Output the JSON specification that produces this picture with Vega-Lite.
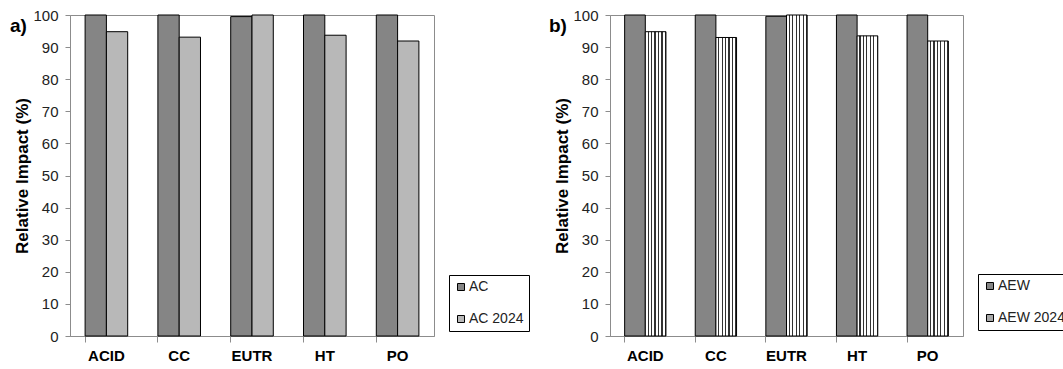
{
  "$schema": "https://vega.github.io/schema/vega-lite/v6.json",
  "background": "white",
  "padding": {"left": 9, "top": 7, "right": 0, "bottom": 0},
  "bounds": "flush",
  "spacing": 176,
  "resolve": {"scale": {"fill": "independent", "xOffset": "independent", "x": "independent", "y": "independent"}, "legend": {"fill": "independent"}},
  "config": {
    "view": {"stroke": "#8c8c8c", "strokeWidth": 1},
    "font": "Liberation Sans",
    "axis": {"domainColor": "#8c8c8c", "tickColor": "#8c8c8c", "labelColor": "#222222", "titleColor": "#222222", "grid": false},
    "legend": {
      "orient": "none",
      "strokeColor": "black",
      "fillColor": "white",
      "padding": 5,
      "rowPadding": 18,
      "labelFontSize": 14,
      "labelFont": "Liberation Sans",
      "labelColor": "#222222",
      "symbolType": "square",
      "symbolSize": 49,
      "symbolStrokeColor": "black",
      "symbolStrokeWidth": 1,
      "labelOffset": 1
    }
  },
  "hconcat": [
    {
      "width": 364,
      "height": 321,
      "title": {"text": "a)", "anchor": "start", "orient": "top", "frame": "group", "fontSize": 19, "fontWeight": "bold", "font": "Liberation Sans", "color": "black", "dx": -60, "dy": 32},
      "data": {"values": [
        {"cat": "ACID", "series": "AC", "value": 100},
        {"cat": "ACID", "series": "AC 2024", "value": 94.8},
        {"cat": "CC", "series": "AC", "value": 100},
        {"cat": "CC", "series": "AC 2024", "value": 93.1},
        {"cat": "EUTR", "series": "AC", "value": 99.5},
        {"cat": "EUTR", "series": "AC 2024", "value": 100},
        {"cat": "HT", "series": "AC", "value": 100},
        {"cat": "HT", "series": "AC 2024", "value": 93.7},
        {"cat": "PO", "series": "AC", "value": 100},
        {"cat": "PO", "series": "AC 2024", "value": 91.9}
      ]},
      "mark": {"type": "bar", "stroke": "black", "strokeWidth": 1},
      "encoding": {
        "x": {"field": "cat", "type": "nominal", "sort": ["ACID", "CC", "EUTR", "HT", "PO"],
          "scale": {"paddingInner": 0.415, "paddingOuter": 0.2075},
          "axis": {"title": null, "labelAngle": 0, "labelFont": "Liberation Sans", "labelFontSize": 15, "labelFontWeight": "bold", "labelColor": "black", "bandPosition": 0, "tickSize": 6, "labelPadding": 6}},
        "xOffset": {"field": "series", "type": "nominal", "sort": ["AC", "AC 2024"], "scale": {"paddingInner": 0, "paddingOuter": 0}},
        "y": {"field": "value", "type": "quantitative", "scale": {"domain": [0, 100]},
          "axis": {"title": "Relative Impact (%)", "values": [0, 10, 20, 30, 40, 50, 60, 70, 80, 90, 100], "tickSize": 5, "labelPadding": 7, "labelFont": "Liberation Sans", "labelFontSize": 15, "titleFontSize": 17, "titleFontWeight": "bold", "titleColor": "black", "titlePadding": 1}},
        "fill": {"field": "series", "type": "nominal", "sort": ["AC", "AC 2024"],
          "scale": {"domain": ["AC", "AC 2024"], "range": ["#858585", "#b8b8b8"]},
          "legend": {"title": null, "legendX": 379, "legendY": 260}}
      }
    },
    {
      "width": 353,
      "height": 321,
      "title": {"text": "b)", "anchor": "start", "orient": "top", "frame": "group", "fontSize": 19, "fontWeight": "bold", "font": "Liberation Sans", "color": "black", "dx": -61, "dy": 32},
      "data": {"values": [
        {"cat": "ACID", "series": "AEW", "value": 100},
        {"cat": "ACID", "series": "AEW 2024", "value": 94.8},
        {"cat": "CC", "series": "AEW", "value": 100},
        {"cat": "CC", "series": "AEW 2024", "value": 93.0},
        {"cat": "EUTR", "series": "AEW", "value": 99.6},
        {"cat": "EUTR", "series": "AEW 2024", "value": 100},
        {"cat": "HT", "series": "AEW", "value": 100},
        {"cat": "HT", "series": "AEW 2024", "value": 93.5},
        {"cat": "PO", "series": "AEW", "value": 100},
        {"cat": "PO", "series": "AEW 2024", "value": 91.9}
      ]},
      "mark": {"type": "bar", "stroke": "black", "strokeWidth": 1},
      "encoding": {
        "x": {"field": "cat", "type": "nominal", "sort": ["ACID", "CC", "EUTR", "HT", "PO"],
          "scale": {"paddingInner": 0.415, "paddingOuter": 0.2075},
          "axis": {"title": null, "labelAngle": 0, "labelFont": "Liberation Sans", "labelFontSize": 15, "labelFontWeight": "bold", "labelColor": "black", "bandPosition": 0, "tickSize": 6, "labelPadding": 6}},
        "xOffset": {"field": "series", "type": "nominal", "sort": ["AEW", "AEW 2024"], "scale": {"paddingInner": 0, "paddingOuter": 0}},
        "y": {"field": "value", "type": "quantitative", "scale": {"domain": [0, 100]},
          "axis": {"title": "Relative Impact (%)", "values": [0, 10, 20, 30, 40, 50, 60, 70, 80, 90, 100], "tickSize": 5, "labelPadding": 7, "labelFont": "Liberation Sans", "labelFontSize": 15, "titleFontSize": 17, "titleFontWeight": "bold", "titleColor": "black", "titlePadding": 1}},
        "fill": {"field": "series", "type": "nominal", "sort": ["AEW", "AEW 2024"],
          "scale": {"domain": ["AEW", "AEW 2024"], "range": ["#858585", "#a8a8a8"]},
          "legend": {"title": null, "legendX": 368, "legendY": 259},
          "condition": {"test": "datum.series === 'AEW 2024'", "value": {"gradient": "linear", "x1": 0, "y1": 0, "x2": 1, "y2": 0, "stops": [
            {"offset": 0, "color": "white"}, {"offset": 0.11, "color": "white"}, {"offset": 0.11, "color": "#333333"}, {"offset": 0.167, "color": "#333333"},
            {"offset": 0.167, "color": "white"}, {"offset": 0.277, "color": "white"}, {"offset": 0.277, "color": "#333333"}, {"offset": 0.333, "color": "#333333"},
            {"offset": 0.333, "color": "white"}, {"offset": 0.443, "color": "white"}, {"offset": 0.443, "color": "#333333"}, {"offset": 0.5, "color": "#333333"},
            {"offset": 0.5, "color": "white"}, {"offset": 0.61, "color": "white"}, {"offset": 0.61, "color": "#333333"}, {"offset": 0.667, "color": "#333333"},
            {"offset": 0.667, "color": "white"}, {"offset": 0.777, "color": "white"}, {"offset": 0.777, "color": "#333333"}, {"offset": 0.833, "color": "#333333"},
            {"offset": 0.833, "color": "white"}, {"offset": 0.943, "color": "white"}, {"offset": 0.943, "color": "#333333"}, {"offset": 1, "color": "#333333"}
          ]}}}
      }
    }
  ]
}
